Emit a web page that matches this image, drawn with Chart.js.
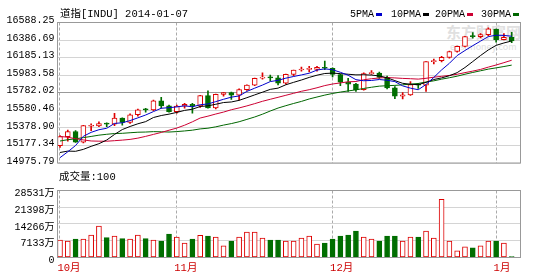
<!DOCTYPE html>
<html>
<head>
<meta charset="utf-8">
<script src="https://cdn.jsdelivr.net/npm/chart.js@4.4.1/dist/chart.umd.min.js"></script>
<style>
  html, body { margin: 0; padding: 0; background: #fff; }
  #wrap { position: relative; width: 535px; height: 277px; overflow: hidden;
          font-family: "Liberation Mono", "Noto Sans CJK SC", monospace; font-size: 10.5px; color: #000; }
  #wrap canvas { position: absolute; left: 0; }
  .txt { position: absolute; line-height: 12px; white-space: nowrap; }
  .mk { display: inline-block; width: 6px; height: 3px; margin-left: 2px; vertical-align: middle; }
  .wm { position: absolute; color: #e0e0e0; white-space: nowrap; font-family: "Noto Sans CJK SC", sans-serif; }
</style>
</head>
<body>
<div id="wrap">
  <div class="wm" style="left:446px;top:24px;font-size:15px;font-weight:bold;line-height:16px;">东方财富网</div>
  <div class="wm" style="left:450px;top:42px;font-size:9px;line-height:10px;">eastmoney.com</div>

  <canvas id="kline" width="535" height="172" style="top:0"></canvas>
  <canvas id="vol" width="535" height="97" style="top:180px"></canvas>

  <div class="txt" style="left:60px;top:8px;">道指[INDU] 2014-01-07</div>
  <div class="txt" style="left:350px;top:9px;font-size:10px;">5PMA<span class="mk" style="background:#0000cc"></span></div>
  <div class="txt" style="left:391px;top:9px;font-size:10px;">10PMA<span class="mk" style="background:#000"></span></div>
  <div class="txt" style="left:435px;top:9px;font-size:10px;">20PMA<span class="mk" style="background:#cc0033"></span></div>
  <div class="txt" style="left:481px;top:9px;font-size:10px;">30PMA<span class="mk" style="background:#006600"></span></div>
  <div class="txt" style="left:59px;top:171px;">成交量:100</div>
</div>

<script>
// === 道指日K线 + 均线 + 成交量 ===

// 交易日 (2013-10-11 ~ 2014-01-06)
const dates = [
  '10-11','10-14','10-15','10-16','10-17','10-18','10-21','10-22','10-23','10-24',
  '10-25','10-28','10-29','10-30','10-31','11-01','11-04','11-05','11-06','11-07',
  '11-08','11-11','11-12','11-13','11-14','11-15','11-18','11-19','11-20','11-21',
  '11-22','11-25','11-26','11-27','11-29','12-02','12-03','12-04','12-05','12-06',
  '12-09','12-10','12-11','12-12','12-13','12-16','12-17','12-18','12-19','12-20',
  '12-23','12-24','12-26','12-27','12-30','12-31','01-02','01-03','01-06'
];

const opens = [
  15126.07,15237.11,15301.26,15168.01,15366.00,15371.65,15399.65,15392.20,15467.66,15413.33,
  15509.21,15570.28,15568.93,15680.35,15618.76,15545.75,15615.55,15639.12,15618.22,15746.88,
  15593.98,15761.78,15783.10,15750.67,15821.63,15876.22,15961.70,15976.02,15967.03,15900.82,
  16009.99,16064.77,16072.54,16072.80,16097.33,16086.41,16008.77,15914.62,15889.77,15821.51,
  16020.20,16025.53,15973.13,15843.53,15739.43,15755.36,15884.57,15875.26,16167.97,16179.08,
  16221.14,16294.61,16357.55,16479.88,16478.41,16504.29,16572.00,16441.35,16469.99
];
const highs = [
  15250,15319,15311,15376,15395,15420,15410,15526,15470,15520,
  15580,15590,15690,15726,15630,15630,15650,15650,15750,15806,
  15765,15785,15790,15830,15880,15965,16030,16000,15995,16015,
  16065,16100,16110,16110,16174,16090,16010,15960,15900,16030,
  16058,16040,15990,15860,15785,15920,15900,16168,16200,16235,
  16300,16360,16483,16529,16518,16588.25,16573,16518,16532
];
const lows = [
  15103,15180,15164,15160,15310,15360,15360,15372,15380,15400,
  15490,15540,15560,15590,15540,15530,15590,15530,15600,15590,
  15580,15740,15700,15690,15810,15870,15950,15930,15878,15890,
  15990,16050,16040,16050,16070,15980,15870,15800,15800,15815,
  16010,15960,15830,15710,15705,15750,15835,15800,16140,16165,
  16210,16285,16350,16460,16462,16490,16410,16438,16405
];
const closes = [
  15237.11,15301.26,15168.01,15373.83,15371.65,15399.65,15392.20,15467.66,15413.33,15509.21,
  15570.28,15568.93,15680.35,15618.76,15545.75,15615.55,15639.12,15618.22,15746.88,15593.98,
  15761.78,15783.10,15750.67,15821.63,15876.22,15961.70,15976.02,15967.03,15900.82,16009.99,
  16064.77,16072.54,16072.80,16097.33,16086.41,16008.77,15914.62,15889.77,15821.51,16020.20,
  16025.53,15973.13,15843.53,15739.43,15755.36,15884.57,15875.26,16167.97,16179.08,16221.14,
  16294.61,16357.55,16479.88,16478.41,16504.29,16576.66,16441.35,16469.99,16425.10
];

// 均线
const ma5 = [
  14975.8,15048.8,15127.0,15241.2,15290.4,15323.0,15341.2,15401.2,15409.0,15436.4,
  15470.4,15505.8,15548.2,15589.4,15596.8,15606.0,15620.0,15607.6,15633.2,15642.8,
  15672.0,15700.8,15727.4,15742.4,15798.8,15838.8,15877.4,15920.6,15936.4,15963.2,
  15983.8,16003.2,16024.4,16063.6,16078.8,16067.6,16036.0,15999.4,15944.4,15931.2,
  15934.6,15946.2,15937.0,15920.4,15867.4,15839.2,15819.6,15884.4,15972.4,16065.6,
  16147.6,16244.2,16306.6,16366.4,16423.0,16479.4,16496.0,16494.0,16483.4
];
const ma10 = [
  15040.3,15057.4,15055.0,15079.1,15116.7,15149.4,15195.0,15264.1,15325.1,15363.4,
  15396.7,15423.5,15474.7,15499.2,15516.6,15538.2,15562.9,15577.9,15611.3,15619.8,
  15639.0,15660.4,15667.5,15687.8,15720.8,15755.4,15789.1,15824.0,15839.4,15881.0,
  15911.3,15940.3,15972.5,16000.0,16021.0,16025.7,16019.6,16011.9,16004.0,16005.0,
  16001.1,15991.1,15968.2,15932.4,15899.3,15886.9,15882.9,15910.7,15946.4,15966.5,
  15993.4,16031.9,16095.5,16169.4,16244.3,16313.5,16370.1,16400.3,16424.9
];
const ma20 = [
  15239.4,15229.7,15211.6,15196.5,15183.2,15180.7,15180.2,15186.9,15193.9,15202.9,
  15218.5,15240.5,15264.9,15289.2,15316.7,15343.8,15379.0,15421.0,15468.2,15491.6,
  15517.9,15542.0,15571.1,15593.5,15618.7,15646.8,15676.0,15701.0,15725.4,15750.4,
  15775.2,15800.4,15820.0,15843.9,15870.9,15890.6,15904.4,15918.0,15921.7,15943.0,
  15956.2,15965.7,15970.4,15966.2,15960.2,15956.3,15951.3,15961.3,15975.2,15985.8,
  15997.3,16011.5,16031.9,16050.9,16071.8,16100.2,16126.5,16155.5,16185.7
];
const ma30 = [
  15182.7,15199.1,15210.2,15225.0,15239.5,15255.4,15266.3,15275.6,15278.4,15285.4,
  15291.8,15294.3,15299.3,15297.4,15294.3,15299.8,15307.8,15317.2,15333.0,15341.9,
  15358.7,15380.4,15399.1,15422.0,15451.4,15481.0,15515.7,15555.3,15591.9,15621.4,
  15649.0,15674.7,15704.9,15729.0,15752.8,15773.1,15790.5,15804.6,15818.2,15835.3,
  15850.5,15863.9,15869.4,15873.4,15880.4,15889.3,15897.2,15915.5,15929.9,15950.8,
  15968.6,15987.8,16012.1,16033.9,16054.9,16075.4,16090.9,16107.6,16125.1
];

// 成交量 (万)
const volumes = [
  7450,7020,7870,7870,9550,13340,8430,9130,8010,7870,
  9550,8010,7450,7020,9970,8710,6180,7870,9410,9130,
  8710,4920,7020,8710,10820,10820,8290,7450,7450,7020,
  7020,8290,9130,5760,6180,7870,9130,9550,11240,8710,
  7870,7020,9130,9130,7020,8710,8710,11240,8290,24720,
  7020,2810,4500,4070,4920,7020,7020,6180,420
];

// 坐标刻度
const priceTicks = [14975.79,15177.34,15378.90,15580.46,15782.02,15983.58,16185.13,16386.69,16588.25];
const volTicks = [0,7133,14266,21398,28531];
const monthIdx = [0,15,35,56];
const monthLabels = ['10月','11月','12月','1月'];

const UP = '#dd0000', DOWN = '#006e00';
const up = i => closes[i] >= opens[i];
const X_MIN = -0.32, X_MAX = 59.13;
const PAD = 66; // 价格区上下留白
const yMin = priceTicks[0] - PAD, yMax = priceTicks[priceTicks.length - 1] + PAD;

const frame = {
  id: 'frame',
  afterDraw(chart) {
    const a = chart.chartArea, c = chart.ctx;
    c.save();
    c.strokeStyle = '#999';
    c.lineWidth = 1;
    c.strokeRect(a.left, a.top, a.right - a.left, a.bottom - a.top);
    c.restore();
  }
};

const tickFont = { family: '"Liberation Mono", "Noto Sans CJK SC", monospace', size: 10 };

function monthAxis(showLabels) {
  return {
    type: 'linear', min: X_MIN, max: X_MAX, offset: false,
    afterBuildTicks: s => { s.ticks = monthIdx.map(v => ({ value: v })); },
    afterFit: s => { s.height = showLabels ? 19.5 : 0; },
    grid: { color: '#aaa', drawTicks: false, offset: false },
    border: { display: false, dash: [3, 2] },
    ticks: {
      display: showLabels, autoSkip: false, maxRotation: 0,
      align: 'start', labelOffset: -2.5, padding: 4,
      color: '#cc0000', font: { family: tickFont.family, size: 10.5 },
      callback: (v, i) => monthLabels[i]
    }
  };
}

// K线图
const idx = dates.map((d, i) => i);
new Chart(document.getElementById('kline'), {
  type: 'bar',
  data: {
    datasets: [
      { type: 'line', label: '5PMA', data: idx.map(i => ({ x: i, y: ma5[i] })), borderColor: '#0000cc', borderWidth: 1, pointRadius: 0, order: 0 },
      { type: 'line', label: '10PMA', data: idx.map(i => ({ x: i, y: ma10[i] })), borderColor: '#000', borderWidth: 1, pointRadius: 0, order: 0 },
      { type: 'line', label: '20PMA', data: idx.map(i => ({ x: i, y: ma20[i] })), borderColor: '#cc0033', borderWidth: 1, pointRadius: 0, order: 0 },
      { type: 'line', label: '30PMA', data: idx.map(i => ({ x: i, y: ma30[i] })), borderColor: '#006600', borderWidth: 1, pointRadius: 0, order: 0 },
      {
        label: 'body', order: 1, grouped: false, barThickness: 5, minBarLength: 1,
        data: idx.map(i => ({ x: i, y: [opens[i], closes[i]] })),
        backgroundColor: idx.map(i => up(i) ? '#fff' : DOWN),
        borderColor: idx.map(i => up(i) ? UP : DOWN),
        borderWidth: 1, borderSkipped: false
      },
      {
        label: 'wick', order: 2, grouped: false, barThickness: 1,
        data: idx.map(i => ({ x: i, y: [lows[i], highs[i]] })),
        backgroundColor: idx.map(i => up(i) ? UP : DOWN)
      }
    ]
  },
  options: {
    responsive: false, animation: false,
    layout: { padding: { top: 22.5, bottom: 4.5, left: 0, right: 14.5 } },
    plugins: { legend: { display: false }, tooltip: { enabled: false } },
    scales: {
      x: monthAxis(false),
      y: {
        min: yMin, max: yMax,
        afterBuildTicks: s => { s.ticks = priceTicks.map((v, i) => ({ value: yMin + i * (yMax - yMin) / 8 })); },
        afterFit: s => { s.width = 57.5; },
        grid: { color: c => c.index === 4 ? '#999' : '#d4d4d4', drawTicks: false },
        border: { display: false },
        ticks: { padding: 3, labelOffset: -2, color: '#000', font: tickFont, callback: (v, i) => priceTicks[i].toFixed(2) }
      }
    }
  },
  plugins: [frame]
});

// 成交量
new Chart(document.getElementById('vol'), {
  type: 'bar',
  data: {
    datasets: [{
      label: '成交量', grouped: false, barThickness: 5, minBarLength: 1,
      data: idx.map(i => ({ x: i, y: volumes[i] })),
      backgroundColor: idx.map(i => up(i) ? '#fff' : DOWN),
      borderColor: idx.map(i => up(i) ? UP : DOWN),
      borderWidth: 1, borderSkipped: false
    }]
  },
  options: {
    responsive: false, animation: false,
    layout: { padding: { top: 10.5, bottom: 0, left: 0, right: 14.5 } },
    plugins: { legend: { display: false }, tooltip: { enabled: false } },
    scales: {
      x: monthAxis(true),
      y: {
        min: 0, max: volTicks[volTicks.length - 1],
        afterBuildTicks: s => { s.ticks = volTicks.map(v => ({ value: v })); },
        afterFit: s => { s.width = 57.5; },
        grid: { color: '#d4d4d4', drawTicks: false },
        border: { display: false },
        ticks: { padding: 3, labelOffset: 3, color: '#000', font: tickFont, callback: v => v === 0 ? '0' : v + '万' }
      }
    }
  },
  plugins: [frame]
});
</script>
</body>
</html>
